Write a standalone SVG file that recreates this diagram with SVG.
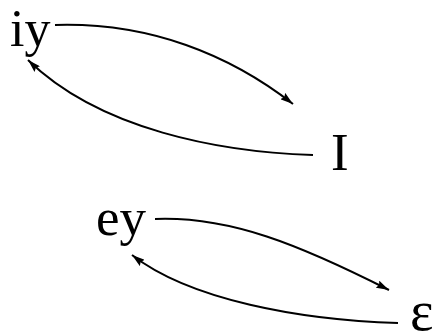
<svg xmlns="http://www.w3.org/2000/svg" width="438" height="336" viewBox="0 0 438 336">
<style>
.lbl{font-family:"Liberation Serif","Times New Roman",serif;font-size:53px;fill:#000}
.edge{fill:none;stroke:#000;stroke-width:2}
</style>
<defs>
<marker id="ah" viewBox="0 0 13 8" refX="13" refY="4" markerWidth="13" markerHeight="8" markerUnits="userSpaceOnUse" orient="auto">
<path d="M0,0 L13,4 L0,8 L2,4 Z" fill="#000"/>
</marker>
</defs>
<rect width="438" height="336" fill="#fff"/>
<g id="connectors">
<path class="edge" d="M55,25 C150,22 230,55 293,104" marker-end="url(#ah)"/>
<path class="edge" d="M313,155 C220,152 100,130 28,60" marker-end="url(#ah)"/>
<path class="edge" d="M155,219 C230,216 300,245 389,290" marker-end="url(#ah)"/>
<path class="edge" d="M398,323 C300,320 190,300 132,255" marker-end="url(#ah)"/>
</g>
<g id="iy"><text class="lbl" x="10" y="46" style="font-size:52px">iy</text></g>
<g id="I"><text class="lbl" x="331" y="170">I</text></g>
<g id="ey"><text class="lbl" x="96" y="235">ey</text></g>
<g id="eps"><text class="lbl" x="410" y="330" style="font-size:56px">ε</text></g>
</svg>
